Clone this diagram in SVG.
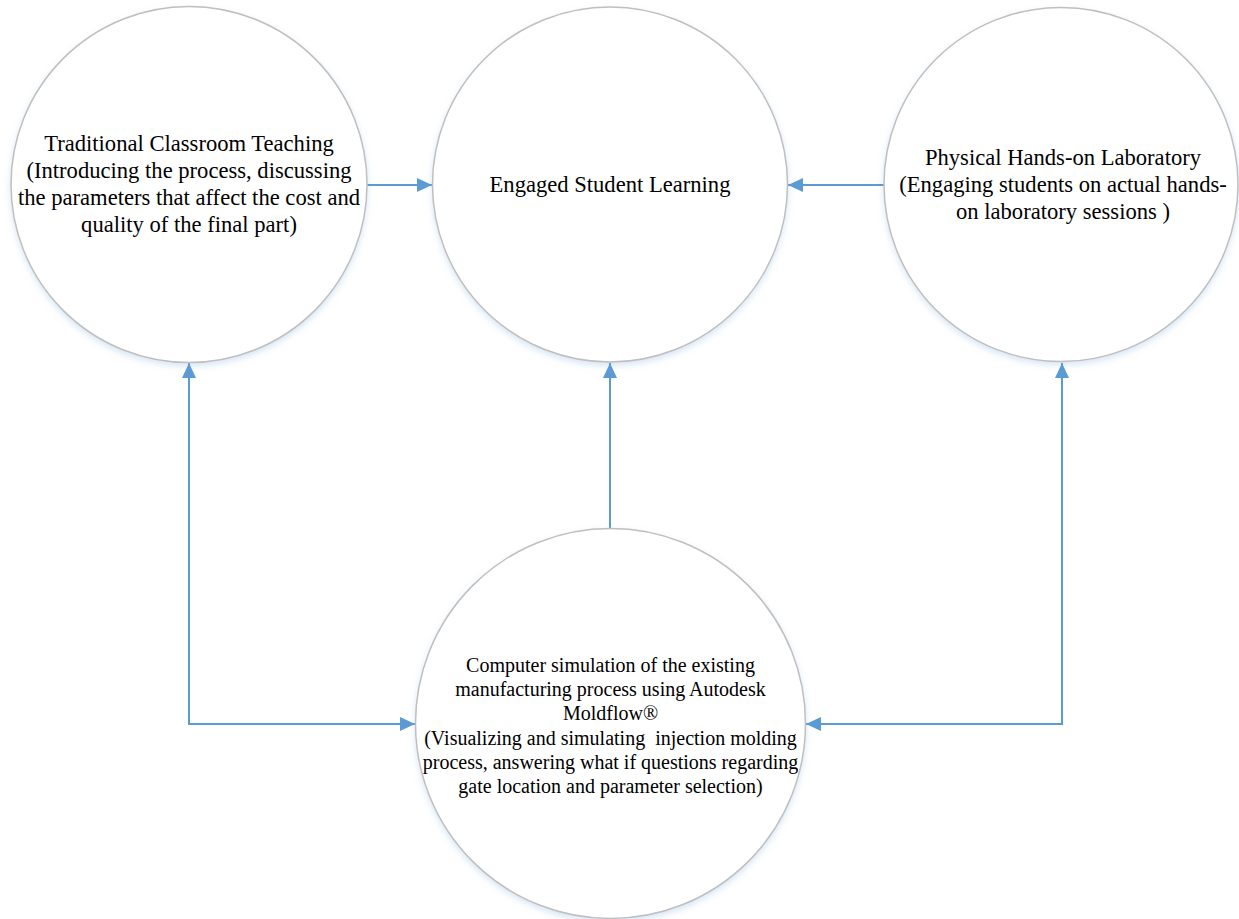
<svg xmlns="http://www.w3.org/2000/svg" width="1239" height="919" viewBox="0 0 1239 919">
<style>
.node circle{fill:#ffffff;stroke:#bfbfbf;stroke-width:1.5;filter:url(#sh)}
.node text{font-family:"Liberation Serif","Times New Roman",serif;fill:#000000;text-anchor:middle}
.big{font-family:"Liberation Serif","Times New Roman",serif;font-size:22.6px}
.small{font-family:"Liberation Serif","Times New Roman",serif;font-size:20px}
.conn{fill:none;stroke:#5b9bd5;stroke-width:2}
</style>
<defs>
<filter id="sh" x="-10%" y="-10%" width="120%" height="125%">
<feDropShadow dx="0" dy="3" stdDeviation="3" flood-color="#5b9bd5" flood-opacity="0.25"/>
</filter>
<marker id="ah" markerUnits="userSpaceOnUse" markerWidth="16" markerHeight="15" refX="15" refY="7" orient="auto-start-reverse" viewBox="0 0 16 15">
<path d="M0,0 L15,7 L0,14 Z" fill="#5b9bd5"/>
</marker>
</defs>
<rect width="1239" height="919" fill="#ffffff"/>
<g id="connectors">
<path class="conn" d="M367,185 L432,185" marker-end="url(#ah)"/>
<path class="conn" d="M884,185 L788,185" marker-end="url(#ah)"/>
<path class="conn" d="M610,528 L610,363" marker-end="url(#ah)"/>
<path class="conn" d="M189,363 L189,724 L415,724" marker-start="url(#ah)" marker-end="url(#ah)"/>
<path class="conn" d="M1062,363 L1062,724 L806,724" marker-start="url(#ah)" marker-end="url(#ah)"/>
</g>
<g id="node-traditional" class="node">
<circle cx="189" cy="184.5" r="178"/>
<text class="big" x="189" y="150.5">Traditional Classroom Teaching</text>
<text class="big" x="189" y="178">(Introducing the process, discussing</text>
<text class="big" x="189" y="205">the parameters that affect the cost and</text>
<text class="big" x="189" y="232">quality of the final part)</text>
</g>
<g id="node-engaged" class="node">
<circle cx="610" cy="184.5" r="177.5"/>
<text class="big" x="610" y="191.5">Engaged Student Learning</text>
</g>
<g id="node-lab" class="node">
<circle cx="1061" cy="184.5" r="177"/>
<text class="big" x="1063" y="165">Physical Hands-on Laboratory</text>
<text class="big" x="1063" y="192">(Engaging students on actual hands-</text>
<text class="big" x="1063" y="219">on laboratory sessions )</text>
</g>
<g id="node-simulation" class="node">
<circle cx="610.5" cy="723.5" r="195"/>
<text class="small" x="610.5" y="671.5">Computer simulation of the existing</text>
<text class="small" x="610.5" y="696">manufacturing process using Autodesk</text>
<text class="small" x="610.5" y="720">Moldflow®</text>
<text class="small" x="610.5" y="744.5" xml:space="preserve">(Visualizing and simulating  injection molding</text>
<text class="small" x="610.5" y="768.5">process, answering what if questions regarding</text>
<text class="small" x="610.5" y="792.5">gate location and parameter selection)</text>
</g>
</svg>
